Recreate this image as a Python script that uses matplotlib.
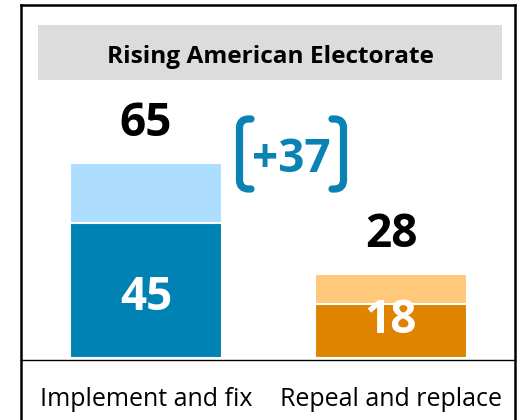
import matplotlib
matplotlib.use("Agg")
import matplotlib.pyplot as plt
from matplotlib.patches import Rectangle, PathPatch
from matplotlib.path import Path
from matplotlib.transforms import Affine2D

# ---- data ----
title = "Rising American Electorate"
categories = ["Implement and fix", "Repeal and replace"]
strong_values = [45, 18]
total_values = [65, 28]
difference_label = "+37"

dark_colors = ["#0083B4", "#E08400"]
light_colors = ["#ADDEFF", "#FFC87A"]
accent = "#0A83B4"

FONT = ["Open Sans", "DejaVu Sans"]
W, H = 520, 420
fig = plt.figure(figsize=(W / 100, H / 100), dpi=100)
px = Affine2D().scale(1 / W, -1 / H).translate(0, 1) + fig.transFigure

# axes: px 21..515 horizontally, 5..360 vertically
ax = fig.add_axes([21 / W, 1 - 360 / H, 494 / W, 355 / H])
ax.set_xlim(-0.5102, 1.506)
ax.set_ylim(-0.667, 117.67)
for s in ["left", "right", "top"]:
    ax.spines[s].set_visible(False)
ax.spines["bottom"].set_linewidth(1.0)
ax.spines["bottom"].set_color("black")
ax.set_xticks([])
ax.set_yticks([])
ax.patch.set_alpha(0)

x = list(range(len(categories)))
bw = 0.62
ax.bar(x, total_values, width=bw, color=light_colors, edgecolor="white", linewidth=1.5, zorder=2)
ax.bar(x, strong_values, width=bw, color=dark_colors, edgecolor="white", linewidth=1.5, zorder=3)

# total labels above bars
for xi, t in zip(x, total_values):
    ax.annotate(str(t), (xi, t), xytext=(0, 19.5), textcoords="offset points",
                ha="center", va="baseline", fontsize=33, fontweight="bold",
                family=FONT, color="black", zorder=5)

# inner labels (white)
inner_baselines = [16.0, 8.4]
for xi, v, yb in zip(x, strong_values, inner_baselines):
    ax.text(xi, yb, str(v), ha="center", va="baseline", fontsize=33,
            fontweight="bold", family=FONT, color="white", zorder=5)

# category labels
for xi, c in zip(x, categories):
    ax.text(xi, -0.1296, c, transform=ax.get_xaxis_transform(), ha="center",
            va="baseline", fontsize=18, family=FONT, color="black", clip_on=False)

# outer frame
for seg in [[(21, 5), (21, 430)], [(21, 5), (515, 5)], [(515, 5), (515, 430)]]:
    (x0, y0), (x1, y1) = seg
    fig.add_artist(plt.Line2D([x0, x1], [y0, y1], transform=px, color="black",
                              linewidth=1.8, solid_capstyle="projecting"))
# title box
fig.patches.append(Rectangle((38, 25), 464, 55, transform=px,
                             facecolor="#DCDCDC", edgecolor="none"))
fig.text(270 / W, 1 - 63 / H, title, ha="center", va="baseline", fontsize=17.6,
         fontweight="bold", family=FONT, color="black")

# difference label with brackets
fig.text(291.5 / W, 1 - 172 / H, difference_label, ha="center", va="baseline",
         fontsize=33, fontweight="bold", family=FONT, color=accent)

def bracket(xc, xe, y0, y1, r=9):
    d = 1 if xe > xc else -1
    verts = [(xe, y0), (xc + d * r, y0), (xc, y0), (xc, y0 + r), (xc, y1 - r),
             (xc, y1), (xc + d * r, y1), (xe, y1)]
    codes = [Path.MOVETO, Path.LINETO, Path.CURVE3, Path.CURVE3, Path.LINETO,
             Path.CURVE3, Path.CURVE3, Path.LINETO]
    return Path(verts, codes)

for xc, xe in [(239.5, 251), (343.5, 332)]:
    fig.patches.append(PathPatch(bracket(xc, xe, 119, 189), transform=px, fill=False,
                                 edgecolor=accent, linewidth=5.2, capstyle="round",
                                 joinstyle="round"))

fig.savefig("out.png", dpi=100)
